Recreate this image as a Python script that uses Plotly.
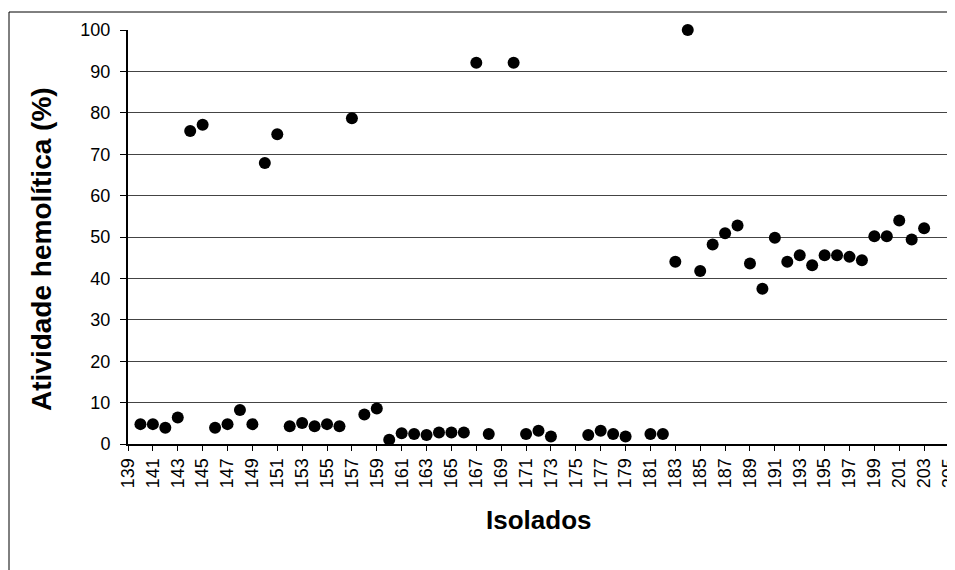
import plotly.graph_objects as go

isolados = [140, 141, 142, 143, 144, 145, 146, 147, 148, 149, 150, 151, 152, 153, 154, 155, 156, 157, 158, 159,
            160, 161, 162, 163, 164, 165, 166, 167, 168, 170, 171, 172, 173, 176, 177, 178, 179, 181, 182,
            183, 184, 185, 186, 187, 188, 189, 190, 191, 192, 193, 194, 195, 196, 197, 198, 199, 200, 201, 202, 203]
atividade = [4.8, 4.8, 3.9, 6.4, 75.6, 77.1, 3.9, 4.8, 8.2, 4.8, 67.9, 74.8, 4.3, 5.1, 4.3, 4.8, 4.3, 78.7, 7.1, 8.6,
             1.0, 2.6, 2.4, 2.2, 2.8, 2.8, 2.8, 92.1, 2.4, 92.1, 2.4, 3.2, 1.8, 2.2, 3.2, 2.4, 1.8, 2.4, 2.4,
             44.0, 100.0, 41.8, 48.2, 50.9, 52.8, 43.6, 37.5, 49.8, 44.0, 45.6, 43.2, 45.6, 45.6, 45.2, 44.4, 50.2, 50.2, 54.0, 49.4, 52.1]

x_ticks = list(range(139, 206, 2))
y_ticks = list(range(0, 101, 10))

FONT = "Arial, Liberation Sans, sans-serif"

# page body has an 8px margin, so the figure is drawn 8px right/down
W, H = 962, 562
L, T, B = 120, 22, 126
R = W - (949 - 8)
PW, PH = W - L - R, H - T - B


def px(xp):
    return (xp - 8 - L) / PW


def py(yp):
    return (H - B - (yp - 8)) / PH


fig = go.Figure()
fig.add_trace(go.Scatter(
    x=isolados, y=atividade, mode="markers",
    marker=dict(color="black", size=12, line=dict(width=0)),
    cliponaxis=False, showlegend=False,
))

fig.update_layout(
    width=W, height=H,
    margin=dict(l=L, r=R, t=T, b=B),
    paper_bgcolor="white", plot_bgcolor="white",
    font=dict(family=FONT, color="black", size=18),
    xaxis=dict(
        range=[139, 205], tickvals=x_ticks, ticktext=[str(v) for v in x_ticks],
        tickangle=-90, ticks="outside", ticklen=5, tickcolor="black", tickwidth=1,
        showgrid=False, zeroline=False, showline=True, linecolor="black", linewidth=2,
        mirror=False, tickfont=dict(size=18, family=FONT), automargin=False,
    ),
    yaxis=dict(
        range=[0, 100], tickvals=y_ticks, ticks="outside", ticklen=6, tickcolor="black", tickwidth=1,
        showgrid=True, gridcolor="#444444", gridwidth=1, zeroline=False,
        showline=True, linecolor="black", linewidth=2, ticklabelstandoff=6,
        tickfont=dict(size=18, family=FONT), automargin=False,
    ),
    annotations=[
        dict(text="<b>Atividade hemolítica (%)</b>", xref="paper", yref="paper",
             x=px(41), y=py(249), xanchor="center", yanchor="middle", textangle=-90,
             showarrow=False, font=dict(size=28, family=FONT, color="black")),
        dict(text="<b>Isolados</b>", xref="paper", yref="paper",
             x=px(538), y=py(520), xanchor="center", yanchor="middle",
             showarrow=False, font=dict(size=26, family=FONT, color="black")),
    ],
    shapes=[
        dict(type="line", xref="paper", yref="paper", x0=1, x1=1, y0=0, y1=1,
             line=dict(color="black", width=1)),
        dict(type="rect", xref="paper", yref="paper",
             x0=px(9), x1=1.2, y0=-0.6, y1=py(12),
             line=dict(color="black", width=1), layer="below"),
    ],
)

fig.write_html("out.html")
